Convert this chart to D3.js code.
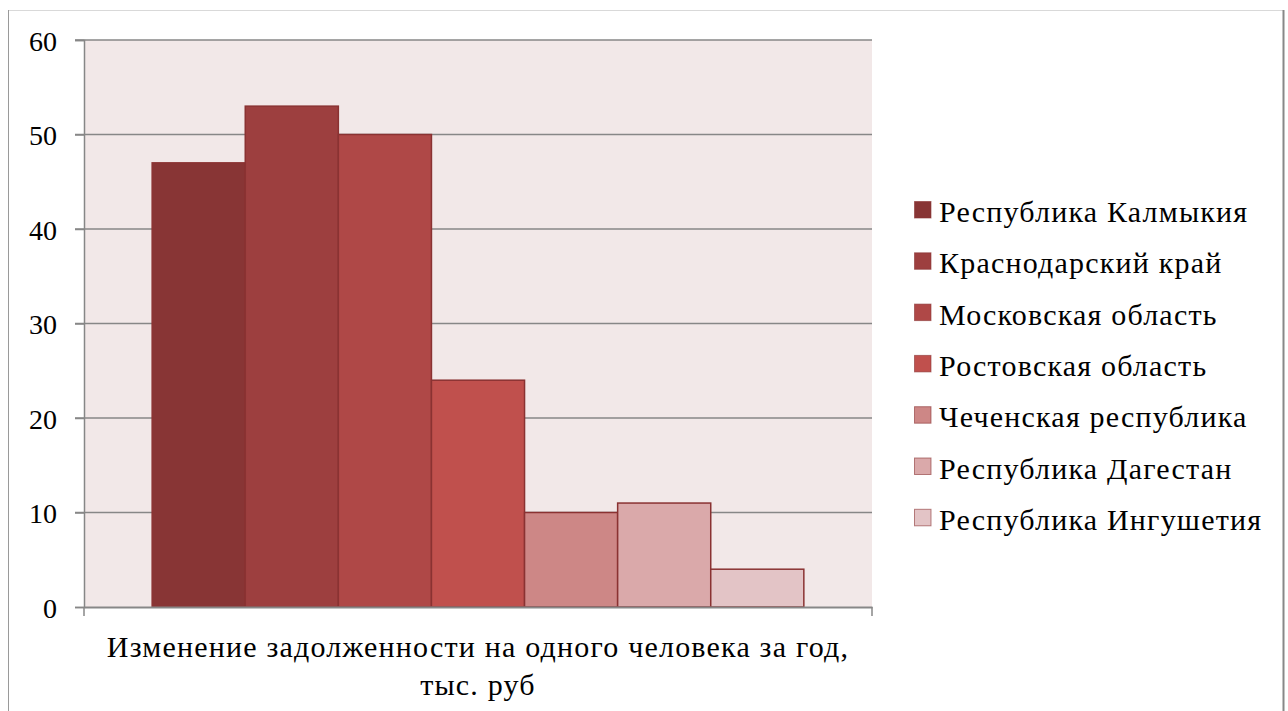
<!DOCTYPE html>
<html><head><meta charset="utf-8">
<script src="https://cdn.jsdelivr.net/npm/d3@7"></script>
</head><body style="margin:0">
<script>
const categories = ["Изменение задолженности на одного человека за год, тыс. руб"];
const categoryLines = ["Изменение задолженности на одного человека за год,", "тыс. руб"];
const seriesNames = ["Республика Калмыкия","Краснодарский край","Московская область","Ростовская область","Чеченская республика","Республика Дагестан","Республика Ингушетия"];
const seriesValues = [47, 53, 50, 24, 10, 11, 4];
const seriesColors = ["#883535","#9d3f3f","#af4847","#c0504d","#cd8786","#daa9aa","#e3c4c6"];
const yTicks = [0,10,20,30,40,50,60];

const W=1288,H=711;
const m={left:84,top:40,right:872,bottom:607};
const FONT='"Times New Roman"';
const svg=d3.select("body").append("svg").attr("width",W).attr("height",H)
  .style("display","block").style("font-family",FONT);

svg.append("line").attr("x1",8).attr("x2",1284).attr("y1",10.5).attr("y2",10.5).attr("stroke","#d9d9d9").attr("stroke-width",1);
svg.append("line").attr("x1",8.5).attr("x2",8.5).attr("y1",10).attr("y2",H).attr("stroke","#9a9a9a").attr("stroke-width",1);
svg.append("line").attr("x1",1283.5).attr("x2",1283.5).attr("y1",10).attr("y2",H).attr("stroke","#888").attr("stroke-width",2);

const x0=d3.scaleBand().domain(categories).range([m.left,m.right]).paddingInner(0).paddingOuter(0);
const y=d3.scaleLinear().domain([0,60]).range([m.bottom,m.top]);
const bandPad=0.0865;
const x1=d3.scaleBand().domain(seriesNames)
  .range([x0(categories[0])+x0.bandwidth()*bandPad, x0(categories[0])+x0.bandwidth()*(1-bandPad)]).padding(0);

svg.append("rect").attr("x",m.left).attr("y",m.top).attr("width",m.right-m.left).attr("height",m.bottom-m.top).attr("fill","#f2e8e8");

svg.append("g").selectAll("line").data(yTicks.filter(d=>d>0)).join("line")
  .attr("x1",m.left-9).attr("x2",m.right).attr("y1",d=>y(d)).attr("y2",d=>y(d))
  .attr("stroke","#878787").attr("stroke-width",1.5);

const yAxis=d3.axisLeft(y).tickValues(yTicks).tickSize(9).tickPadding(18).tickFormat(d3.format("d"));
const ga=svg.append("g").attr("transform",`translate(${m.left},0)`).call(yAxis);
ga.attr("font-family",null).attr("font-size",null);
ga.select(".domain").attr("stroke","#878787").attr("stroke-width",1.5);
ga.selectAll(".tick line").attr("stroke","#878787").attr("stroke-width",1.5);
ga.selectAll(".tick text").style("font-family",FONT).style("font-size","28px").attr("fill","#000").attr("dy","0.36em");

svg.append("g").selectAll("rect").data(seriesValues).join("rect")
  .attr("x",(d,i)=>x1(seriesNames[i])).attr("width",x1.bandwidth())
  .attr("y",d=>y(d)).attr("height",d=>y(0)-y(d))
  .attr("fill",(d,i)=>seriesColors[i]).attr("stroke","#8a3232").attr("stroke-width",1.5);

const xAxis=d3.axisBottom(x0).tickSize(0).tickFormat("");
const gx=svg.append("g").attr("transform",`translate(0,${m.bottom})`).call(xAxis);
gx.select(".domain").attr("stroke","#878787").attr("stroke-width",2);
gx.append("g").selectAll("line").data([m.left,m.right]).join("line")
  .attr("x1",d=>d).attr("x2",d=>d).attr("y1",0).attr("y2",9).attr("stroke","#878787").attr("stroke-width",1.5);

const cx=x0(categories[0])+x0.bandwidth()/2;
svg.selectAll("text.cat").data(categoryLines).join("text").attr("class","cat")
  .attr("x",cx).attr("y",(d,i)=>657+i*38).attr("text-anchor","middle")
  .style("font-family",FONT).style("font-size","30px").style("letter-spacing","1.2px")
  .attr("fill","#000").text(d=>d);

const lg=svg.append("g").selectAll("g").data(seriesNames).join("g")
  .attr("transform",(d,i)=>`translate(914,${201+i*51.3})`);
lg.append("rect").attr("x",0.5).attr("y",0.5).attr("width",16.5).attr("height",16.5)
  .attr("fill",(d,i)=>seriesColors[i]).attr("stroke","#8a3232").attr("stroke-opacity",0.6).attr("stroke-width",1);
lg.append("text").attr("x",25).attr("y",21)
  .style("font-family",FONT).style("font-size","30px").style("letter-spacing","1.2px")
  .attr("fill","#000").text(d=>d);
</script>
</body></html>
